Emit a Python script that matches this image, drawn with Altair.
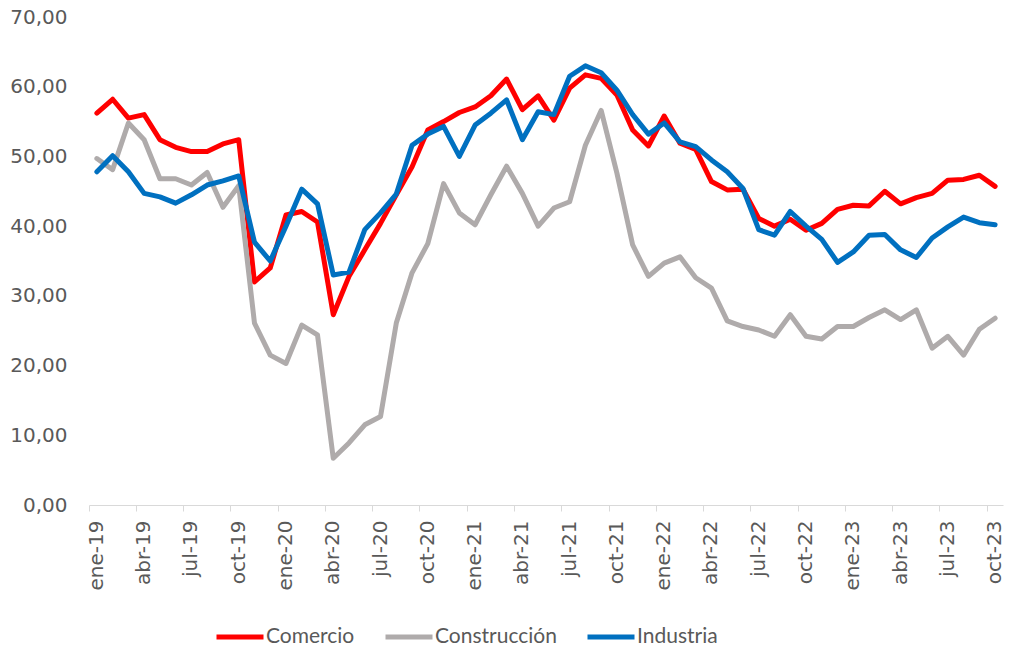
import altair as alt
import pandas as pd

meses = [
    "ene-19", "feb-19", "mar-19", "abr-19", "may-19", "jun-19", "jul-19", "ago-19", "sep-19", "oct-19", "nov-19", "dic-19",
    "ene-20", "feb-20", "mar-20", "abr-20", "may-20", "jun-20", "jul-20", "ago-20", "sep-20", "oct-20", "nov-20", "dic-20",
    "ene-21", "feb-21", "mar-21", "abr-21", "may-21", "jun-21", "jul-21", "ago-21", "sep-21", "oct-21", "nov-21", "dic-21",
    "ene-22", "feb-22", "mar-22", "abr-22", "may-22", "jun-22", "jul-22", "ago-22", "sep-22", "oct-22", "nov-22", "dic-22",
    "ene-23", "feb-23", "mar-23", "abr-23", "may-23", "jun-23", "jul-23", "ago-23", "sep-23", "oct-23",
]

comercio = [
    56.2, 58.2, 55.5, 56.0, 52.4, 51.3, 50.7, 50.7, 51.8, 52.4, 32.0, 34.0,
    41.6, 42.1, 40.6, 27.3, 32.8, 36.6, 40.4, 44.5, 48.5, 53.8, 55.0, 56.3,
    57.1, 58.7, 61.1, 56.7, 58.7, 55.2, 59.8, 61.7, 61.2, 58.8, 53.8, 51.5,
    55.8, 51.9, 51.0, 46.4, 45.2, 45.3, 41.1, 40.0, 41.0, 39.4, 40.4, 42.4,
    43.0, 42.9, 45.0, 43.2, 44.1, 44.7, 46.6, 46.7, 47.3, 45.7,
]

construccion = [
    49.7, 48.1, 54.8, 52.4, 46.8, 46.8, 45.9, 47.7, 42.7, 45.8, 26.1, 21.5,
    20.3, 25.8, 24.4, 6.7, 8.9, 11.5, 12.7, 26.1, 33.3, 37.5, 46.1, 41.9,
    40.2, 44.5, 48.6, 44.7, 40.0, 42.6, 43.5, 51.6, 56.6, 47.6, 37.3, 32.8,
    34.7, 35.6, 32.6, 31.1, 26.4, 25.6, 25.1, 24.2, 27.3, 24.2, 23.8, 25.6,
    25.6, 26.9, 28.0, 26.6, 28.0, 22.5, 24.2, 21.5, 25.2, 26.8,
]

industria = [
    47.8, 50.1, 47.8, 44.7, 44.2, 43.3, 44.5, 45.9, 46.5, 47.2, 37.7, 35.0,
    40.0, 45.3, 43.2, 33.0, 33.4, 39.5, 41.9, 44.6, 51.6, 53.2, 54.3, 50.0,
    54.5, 56.2, 58.1, 52.4, 56.4, 56.0, 61.5, 63.0, 62.0, 59.5, 56.0, 53.2,
    54.8, 52.1, 51.4, 49.5, 47.8, 45.4, 39.5, 38.7, 42.1, 40.0, 38.1, 34.8,
    36.3, 38.7, 38.8, 36.6, 35.5, 38.3, 39.9, 41.3, 40.5, 40.2,
]

series = ["Comercio", "Construcción", "Industria"]
colores = ["#FF0000", "#AFABAB", "#0070C0"]
etiquetas_x = meses[::3]
ticks_y = [0, 10, 20, 30, 40, 50, 60, 70]

rows = []
for nombre, valores in zip(series, [comercio, construccion, industria]):
    for m, v in zip(meses, valores):
        rows.append({"mes": m, "serie": nombre, "valor": v})
df = pd.DataFrame(rows)

FONT_AXIS = "DejaVu Sans"
FONT_LEG = "Lato"
GRIS = "#595959"

chart = (
    alt.Chart(df)
    .mark_line(strokeWidth=5, strokeJoin="round", strokeCap="round")
    .encode(
        x=alt.X(
            "mes:O",
            sort=meses,
            bandPosition=0.5,
            scale=alt.Scale(type="band", paddingInner=0, paddingOuter=0),
            axis=alt.Axis(
                title=None,
                values=etiquetas_x,
                labelAngle=-90,
                labelAlign="right",
                labelBaseline="middle",
                labelFont=FONT_AXIS,
                labelFontSize=20,
                labelColor=GRIS,
                labelPadding=9,
                tickSize=6,
                tickColor="#D9D9D9",
                tickWidth=1,
                bandPosition=0,
                tickExtra=False,
                domainColor="#D9D9D9",
                domainWidth=1,
                grid=False,
                labelOverlap=False,
            ),
        ),
        y=alt.Y(
            "valor:Q",
            scale=alt.Scale(domain=[0, 70], nice=False, zero=True),
            axis=alt.Axis(
                title=None,
                values=ticks_y,
                labelExpr="replace(format(datum.value, '.2f'), '.', ',')",
                labelFont=FONT_AXIS,
                labelFontSize=20,
                labelColor=GRIS,
                labelPadding=22,
                ticks=False,
                tickSize=0,
                domain=False,
                grid=False,
            ),
        ),
        color=alt.Color(
            "serie:N",
            sort=series,
            scale=alt.Scale(domain=series, range=colores),
            legend=alt.Legend(
                title=None,
                orient="none",
                legendX=125,
                legendY=594,
                direction="horizontal",
                symbolType="stroke",
                symbolSize=2209,
                symbolStrokeWidth=5,
                labelFont=FONT_LEG,
                labelFontSize=21,
                labelColor=GRIS,
                labelOffset=0,
                columnPadding=20,
                padding=0,
            ),
        ),
    )
    .properties(
        width=914,
        height=488,
        autosize=alt.AutoSizeParams(type="none"),
        padding={"left": 81, "top": 9, "right": 2, "bottom": 143},
    )
    .configure_view(stroke=None)
)

chart.save("out.html", embed_options={"renderer": "svg", "actions": False})
